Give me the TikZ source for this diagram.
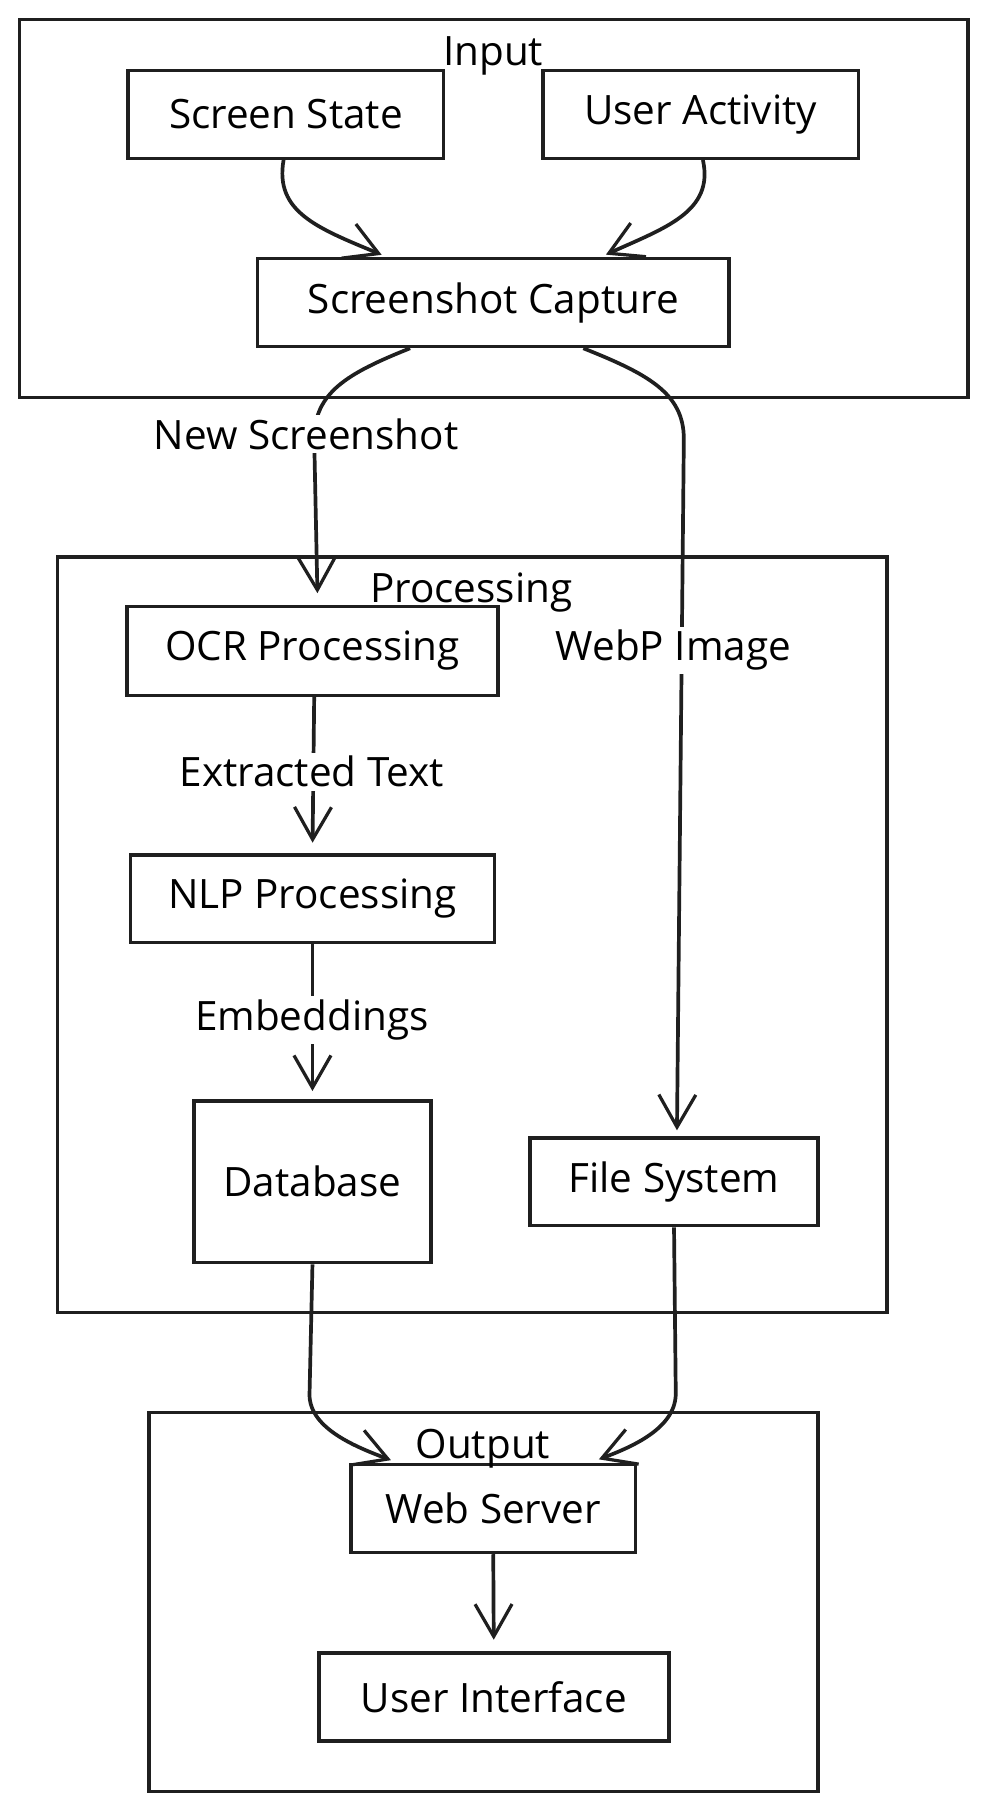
\documentclass[tikz,border=0pt]{standalone}
\usepackage{fontspec}
\setmainfont{Open Sans}
\usetikzlibrary{arrows.meta}
\begin{document}
\begin{tikzpicture}[x=1pt,y=-1pt,
  box/.style={draw=black!88,line width=3pt,fill=white,inner sep=0pt,
    font=\fontsize{35}{40}\selectfont},
  grp/.style={draw=black!88,line width=3pt},
  ttl/.style={inner sep=0pt,anchor=base,font=\fontsize{35}{40}\selectfont},
  lbl/.style={fill=white,inner sep=3pt,font=\fontsize{35}{40}\selectfont},
  conn/.style={draw=black!88,line width=3.2pt,
    -{Straight Barb[length=28pt,width=32pt,line width=2.8pt]}},
]
\useasboundingbox (0,0) rectangle (850.1,1560);
\fill[white] (0,0) rectangle (850.1,1560);
% groups
\draw[grp] (17,17) rectangle (838,344);
\draw[grp] (50,482) rectangle (768,1136);
\draw[grp] (129,1223) rectangle (708,1551);
% nodes
\node[box,minimum width=273pt,minimum height=76pt] (ss) at (247.5,99) {Screen State};
\node[box,minimum width=273pt,minimum height=76pt] (ua) at (606.5,99) {User Activity};
\node[box,minimum width=408pt,minimum height=76pt] (sc) at (427,262) {Screenshot Capture};
\node[box,minimum width=321pt,minimum height=77pt] (ocr) at (270.5,563.5) {OCR Processing};
\node[box,minimum width=315pt,minimum height=76pt] (nlp) at (270.5,778) {NLP Processing};
\node[box,minimum width=205pt,minimum height=140pt] (db) at (270.5,1023) {Database};
\node[box,minimum width=249pt,minimum height=76pt] (fs) at (583.5,1023) {File System};
\node[box,minimum width=246pt,minimum height=76pt] (ws) at (427,1306) {Web Server};
\node[box,minimum width=303pt,minimum height=76pt] (ui) at (427.5,1469) {User Interface};
% titles
\node[ttl] (tin) at (427,57) {Input};
\node[ttl] (tpr) at (408,522) {Processing};
\node[ttl] (tout) at (418,1263) {Output};
% connectors
\draw[conn,shorten >=5pt] ([xshift=-2pt]ss.south) .. controls +(-8,45) and +(-60,-25) .. ([xshift=-92pt]sc.north);
\draw[conn,shorten >=5pt] ([xshift=2pt]ua.south) .. controls +(10,45) and +(55,-25) .. ([xshift=93pt]sc.north);
\draw[conn,shorten >=10pt] ([xshift=-72pt]sc.south) .. controls +(-55,22) and +(0,-40) .. (272,380) -- ([xshift=4.5pt]ocr.north);
\draw[conn,shorten >=5pt] ([xshift=78pt]sc.south) .. controls +(55,22) and +(0,-40) .. (592,380) -- ([xshift=2.5pt]fs.north);
\draw[conn,shorten >=9pt] ([xshift=1.5pt]ocr.south) -- (nlp.north);
\draw[conn,shorten >=7pt] (nlp.south) -- (db.north);
\draw[conn,shorten >=7pt] (db.south) -- (268,1205) .. controls +(-2,30) and +(-40,-15) .. ([xshift=-82pt]ws.north);
\draw[conn,shorten >=9pt] (fs.south) -- (585,1205) .. controls +(1,30) and +(40,-15) .. ([xshift=83pt]ws.north);
\draw[conn,shorten >=10pt] (ws.south) -- (ui.north);
% labels
\node[lbl] (l1) at (265,376) {New Screenshot};
\node[lbl] (l2) at (583,563) {WebP Image};
\node[lbl] (l3) at (270,668) {Extracted Text};
\node[lbl] (l4) at (270,883) {Embeddings};
\end{tikzpicture}
\end{document}
